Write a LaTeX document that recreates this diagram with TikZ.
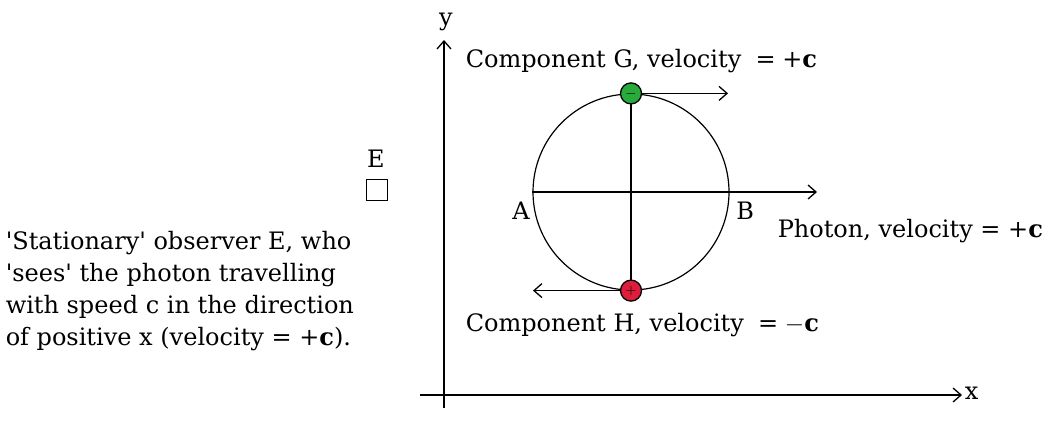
\documentclass[tikz,border=0pt]{standalone}
\usepackage{fontspec}
\setmainfont{DejaVu Serif}
\usepackage{xcolor}
\usepackage{tikz}
\usetikzlibrary{arrows.meta}

\definecolor{compG}{RGB}{40,170,60}
\definecolor{compH}{RGB}{220,30,60}

\tikzset{
   lbl/.style={font=\fontsize{24}{32}\selectfont, inner sep=0pt},
   comp/.style={circle, draw=black, line width=1.3pt, minimum size=21pt, inner sep=0pt, font=\bfseries\fontsize{14}{14}\selectfont},
}

\begin{document}
\begin{tikzpicture}[x=1pt,y=-1pt,line width=1.5pt,>={Straight Barb[length=8pt,width=14pt,line width=1.3pt]}]
   \useasboundingbox (0,0) rectangle (1049,421);

   % Axes
   \coordinate (yend) at (444,40);
   \coordinate (xend) at (962,395);
   \coordinate (ystart) at (444,408);
   \coordinate (xstart) at (420,395);
   \draw[->] (ystart) -- (yend);
   \draw[->] (xstart) -- (xend);
   \node[lbl,anchor=south] (ylab) at (446,32) {y};
   \node[lbl,anchor=west] (xlab) at (964,393) {x};

   % Circle with diameters
   \begin{scope}
      \node[circle,draw,line width=1.2pt,minimum size=196pt,inner sep=0pt] (ring) at (631,192) {};
      \coordinate (pend) at (817,192);
      \draw[->] (ring.west) -- (pend);
      \draw (ring.north) -- (ring.south);
      \node[lbl,anchor=east] (A) at (ring.west) [yshift=-19pt,xshift=-2pt] {A};
      \node[lbl,anchor=west] (B) at (ring.east) [yshift=-19pt,xshift=6pt] {B};

      \node[comp,fill=compG] (G) at (ring.north) {$-$};
      \node[comp,fill=compH] (H) at (ring.south) {$+$};
      \coordinate (gend) at ([xshift=97pt]G.center);
      \coordinate (hend) at ([xshift=-98pt]H.center);
      \draw[->] (G) -- (gend);
      \draw[->] (H) -- (hend);
   \end{scope}

   % Labels
   \node[lbl,anchor=west] (Glab) at (465,61) {Component G, velocity \;=\;+\textbf{c}};
   \node[lbl,anchor=west] (Hlab) at (465,325) {Component H, velocity \;=\;$-$\textbf{c}};
   \node[lbl,anchor=west] (Plab) at (777,231) {Photon, velocity = +\textbf{c}};

   % Observer E
   \node[lbl] (Elab) at (376,159) {E};
   \node[draw,line width=1.2pt,minimum size=21pt,inner sep=0pt] (Ebox) at (377,190) {};
   \node[lbl,anchor=west,align=left] (obs) at (5,291) {\textquotesingle Stationary\textquotesingle{} observer E, who\\\textquotesingle sees\textquotesingle{} the photon travelling\\with speed c in the direction\\of positive x (velocity = +\textbf{c}).};
\end{tikzpicture}
\end{document}
